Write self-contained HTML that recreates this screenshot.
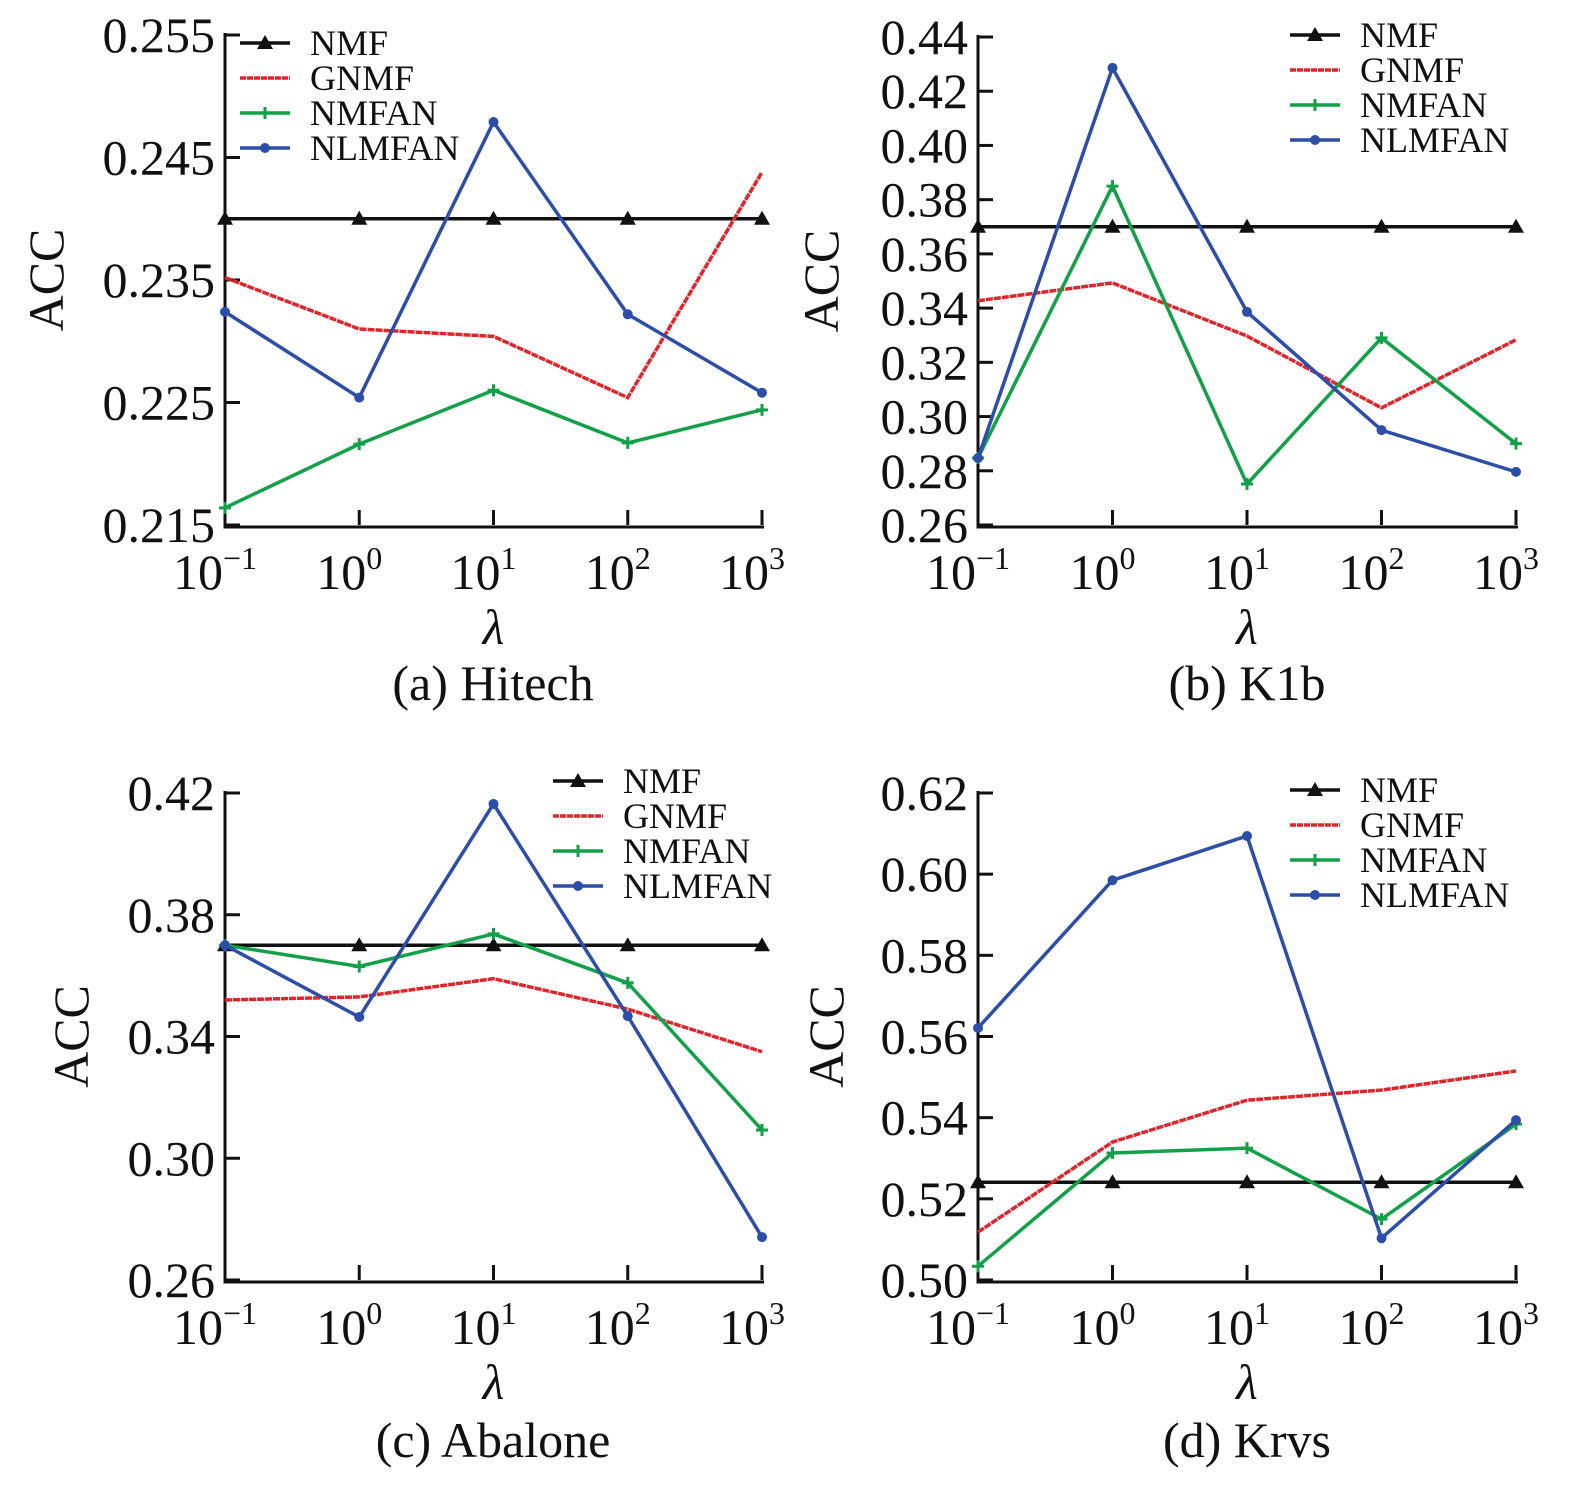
<!DOCTYPE html>
<html><head><meta charset="utf-8"><style>
body{margin:0;background:#fff}
svg{display:block;font-family:"Liberation Serif",serif}
</style></head><body>
<svg id="c" width="1575" height="1486" viewBox="0 0 1575 1486"></svg>
<script>
const xLabels=["-1","0","1","2","3"];
const series=["NMF","GNMF","NMFAN","NLMFAN"];
const colors=["#111","#e0262d","#12a048","#2c4ea8"];
const aNMF=[0.240,0.240,0.240,0.240,0.240];
const aGNMF=[0.2352,0.2310,0.2304,0.2254,0.2438];
const aNMFAN=[0.2164,0.2216,0.2260,0.2217,0.2244];
const aNLMFAN=[0.2324,0.2254,0.2479,0.2322,0.2258];
const bNMF=[0.37,0.37,0.37,0.37,0.37];
const bGNMF=[0.3427,0.3493,0.3297,0.3032,0.3283];
const bNMFAN=[0.2847,0.385,0.2751,0.329,0.290];
const bNLMFAN=[0.2847,0.4286,0.3386,0.295,0.2796];
const cNMF=[0.370,0.370,0.370,0.370,0.370];
const cGNMF=[0.352,0.353,0.359,0.349,0.335];
const cNMFAN=[0.370,0.363,0.3737,0.3576,0.3093];
const cNLMFAN=[0.370,0.3464,0.4164,0.3467,0.2741];
const dNMF=[0.5241,0.5241,0.5241,0.5241,0.5241];
const dGNMF=[0.5118,0.534,0.5443,0.5468,0.5515];
const dNMFAN=[0.5034,0.5313,0.5325,0.515,0.5384];
const dNLMFAN=[0.5621,0.5985,0.6094,0.5103,0.5394];
const aTicks=["0.215","0.225","0.235","0.245","0.255"];
const bTicks=["0.26","0.28","0.30","0.32","0.34","0.36","0.38","0.40","0.42","0.44"];
const cTicks=["0.26","0.30","0.34","0.38","0.42"];
const dTicks=["0.50","0.52","0.54","0.56","0.58","0.60","0.62"];
const panels=[
 {id:"a",cap:"(a) Hitech",x0:225,x1:762,yB:525,yT:35,ticks:aTicks,data:[aNMF,aGNMF,aNMFAN,aNLMFAN],lx:240,ly:43,accX:45,lamY:630,capY:683,capX:493},
 {id:"b",cap:"(b) K1b",x0:978,x1:1516,yB:525,yT:37,ticks:bTicks,data:[bNMF,bGNMF,bNMFAN,bNLMFAN],lx:1290,ly:35,accX:820,lamY:630,capY:683,capX:1247},
 {id:"c",cap:"(c) Abalone",x0:225,x1:762,yB:1280,yT:793,ticks:cTicks,data:[cNMF,cGNMF,cNMFAN,cNLMFAN],lx:553,ly:781,accX:70,lamY:1385,capY:1440,capX:493},
 {id:"d",cap:"(d) Krvs",x0:978,x1:1516,yB:1280,yT:793,ticks:dTicks,data:[dNMF,dGNMF,dNMFAN,dNLMFAN],lx:1290,ly:790,accX:825,lamY:1385,capY:1440,capX:1247}
];
const svg=document.getElementById('c');
const NS="http://www.w3.org/2000/svg";
function mk(t,a,p){const e=document.createElementNS(NS,t);for(const k in a)e.setAttribute(k,a[k]);(p||svg).appendChild(e);return e;}
function marker(g,i,x,y){
 if(i===0){mk('polygon',{points:`${x},${y-8} ${x-8},${y+6} ${x+8},${y+6}`,fill:colors[0]},g);}
 else if(i===2){mk('path',{d:`M${x-6},${y}H${x+6}M${x},${y-6}V${y+6}`,stroke:colors[2],'stroke-width':3},g);}
 else if(i===3){mk('circle',{cx:x,cy:y,r:5,fill:colors[3]},g);}
}
panels.forEach(p=>{
 const g=mk('g',{});
 
 
 const vmin=parseFloat(p.ticks[0]),vmax=parseFloat(p.ticks[p.ticks.length-1]);
 const sx=i=>p.x0+(p.x1-p.x0)*i/(xLabels.length-1);
 const sy=v=>p.yB-(v-vmin)/(vmax-vmin)*(p.yB-p.yT);
 const ax=mk('path',{d:`M${p.x0},${p.yT-2}V${p.yB+2}H${p.x1+2}`,fill:'none',stroke:'#111','stroke-width':3},g);
 
 
 p.ticks.forEach(t=>{const y=sy(parseFloat(t));
  mk('line',{x1:p.x0,x2:p.x0+15,y1:y,y2:y,stroke:'#111','stroke-width':3},g);
  const tx=mk('text',{x:p.x0-10,y:y+17,'font-size':50,'text-anchor':'end',fill:'#111'},g);tx.textContent=t;
  
  
 });
 xLabels.forEach((l,i)=>{const x=sx(i);
  mk('line',{x1:x,x2:x,y1:p.yB,y2:p.yB-15,stroke:'#111','stroke-width':3},g);
  const tx=mk('text',{x:x-10,y:p.yB+64,'font-size':50,'text-anchor':'middle',fill:'#111'},g);
  
  
  tx.textContent='10';
  const s=mk('tspan',{dy:-20,'font-size':32},tx);s.textContent=l.replace('-','\u2212');
 });
 const yl=mk('text',{x:0,y:0,'font-size':50,'text-anchor':'middle',fill:'#111',transform:`translate(${p.accX+18},${(p.yB+p.yT)/2}) rotate(-90)`},g);
 yl.textContent='ACC';
 
 
 const xl=mk('text',{x:(p.x0+p.x1)/2,y:p.lamY+14,'font-size':50,'font-style':'italic','text-anchor':'middle',fill:'#111'},g);
 xl.textContent='λ';
 
 
 const cp=mk('text',{x:p.capX,y:p.capY+17,'font-size':50,'text-anchor':'middle',fill:'#111'},g);
 cp.textContent=p.cap;
 
 
 p.data.forEach((d,si)=>{
  const pts=d.map((v,i)=>sx(i)+','+sy(v)).join(' ');
  const pl=mk('polyline',{points:pts,fill:'none',stroke:colors[si],'stroke-width':3.5},g);
  if(si===1)pl.setAttribute('stroke-dasharray','7 1');
  
  
  d.forEach((v,i)=>marker(g,si,sx(i),sy(v)));
 });
 series.forEach((s,si)=>{
  const y=p.ly+si*35;
  const lg=mk('g',{},g);
  
  
  const ln=mk('line',{x1:p.lx,x2:p.lx+50,y1:y,y2:y,stroke:colors[si],'stroke-width':3.5},lg);
  if(si===1)ln.setAttribute('stroke-dasharray','6 1');
  marker(lg,si,p.lx+25,y);
  const t=mk('text',{x:p.lx+70,y:y+12,'font-size':36,fill:'#111'},lg);t.textContent=s;
 });
});
</script>
</body></html>
